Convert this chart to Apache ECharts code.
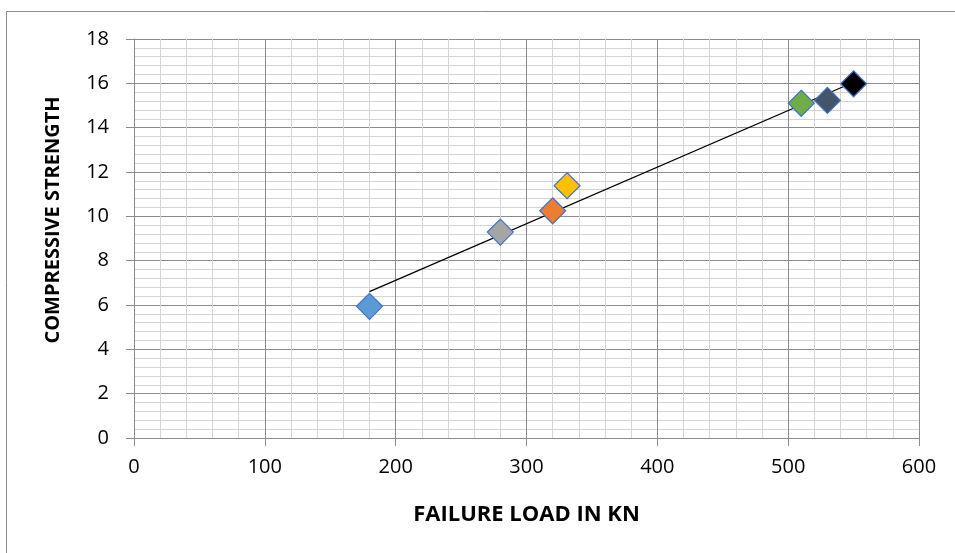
<!DOCTYPE html>
<html>
<head>
<meta charset="utf-8">
<script src="https://cdn.jsdelivr.net/npm/echarts@6/dist/echarts.min.js"></script>
<style>html,body{margin:0;padding:0;background:#fff;}#c{width:955px;height:553px;}</style>
</head>
<body>
<div id="c"></div>
<script>
var failureLoad = [180, 280, 320, 331, 510, 530, 550];
var compressiveStrength = [5.94, 9.29, 10.25, 11.38, 15.1, 15.23, 15.98];
var trendX = [180, 550];
var trendY = [6.6, 16.05];
var xTicks = [0, 100, 200, 300, 400, 500, 600];
var yTicks = [0, 2, 4, 6, 8, 10, 12, 14, 16, 18];
var xTitle = 'FAILURE LOAD IN KN';
var yTitle = 'COMPRESSIVE STRENGTH';

var markerColors = ['#5B9BD5', '#A5A5A5', '#ED7D31', '#FFC000', '#70AD47', '#44546A', '#000000'];

var chart = echarts.init(document.getElementById('c'), null, {renderer: 'canvas'});
var font = '"Open Sans", "Liberation Sans", sans-serif';

var pointSeries = failureLoad.map(function (x, i) {
  return {
    type: 'scatter',
    symbol: 'diamond',
    symbolSize: 26,
    z: 5,
    itemStyle: {color: markerColors[i], opacity: 1, borderColor: '#4472C4', borderWidth: 1.2},
    data: [[x, compressiveStrength[i]]]
  };
});

chart.setOption({
  animation: false,
  backgroundColor: '#fff',
  graphic: [{
    type: 'rect', left: 4, top: 9, z: -10,
    shape: {width: 960, height: 560},
    style: {fill: 'none', stroke: '#8c8c8c', lineWidth: 1}
  }, {
    type: 'text', x: 53, y: 220, rotation: Math.PI / 2,
    style: {text: yTitle, font: 'bold 20px ' + font, fill: '#000', align: 'center', verticalAlign: 'middle'}
  }],
  grid: {left: 134, right: 36, top: 39, bottom: 115},
  xAxis: {
    type: 'value', min: xTicks[0], max: xTicks[xTicks.length - 1], interval: 100,
    name: xTitle, nameLocation: 'middle', nameGap: 66,
    nameTextStyle: {fontFamily: font, fontWeight: 'bold', fontSize: 22, color: '#000'},
    axisLine: {show: true, lineStyle: {color: '#8c8c8c', width: 1}},
    axisTick: {show: true, length: 8, lineStyle: {color: '#8c8c8c'}},
    axisLabel: {fontFamily: font, fontSize: 20, color: '#000', margin: 19},
    splitLine: {show: true, lineStyle: {color: '#8c8c8c', width: 1}},
    minorTick: {show: false, splitNumber: 5},
    minorSplitLine: {show: true, lineStyle: {color: '#d4d4d4', width: 1}}
  },
  yAxis: {
    type: 'value', min: yTicks[0], max: yTicks[yTicks.length - 1], interval: 2,
    axisLine: {show: true, lineStyle: {color: '#8c8c8c', width: 1}},
    axisTick: {show: true, length: 8, lineStyle: {color: '#8c8c8c'}},
    axisLabel: {fontFamily: font, fontSize: 20, color: '#000', margin: 25},
    splitLine: {show: true, lineStyle: {color: '#8c8c8c', width: 1}},
    minorTick: {show: false, splitNumber: 5},
    minorSplitLine: {show: true, lineStyle: {color: '#d4d4d4', width: 1}}
  },
  series: [{
    type: 'line', z: 4, symbol: 'none', silent: true,
    lineStyle: {color: '#000', width: 1.3},
    data: trendX.map(function (x, i) { return [x, trendY[i]]; })
  }].concat(pointSeries)
});
</script>
</body>
</html>
